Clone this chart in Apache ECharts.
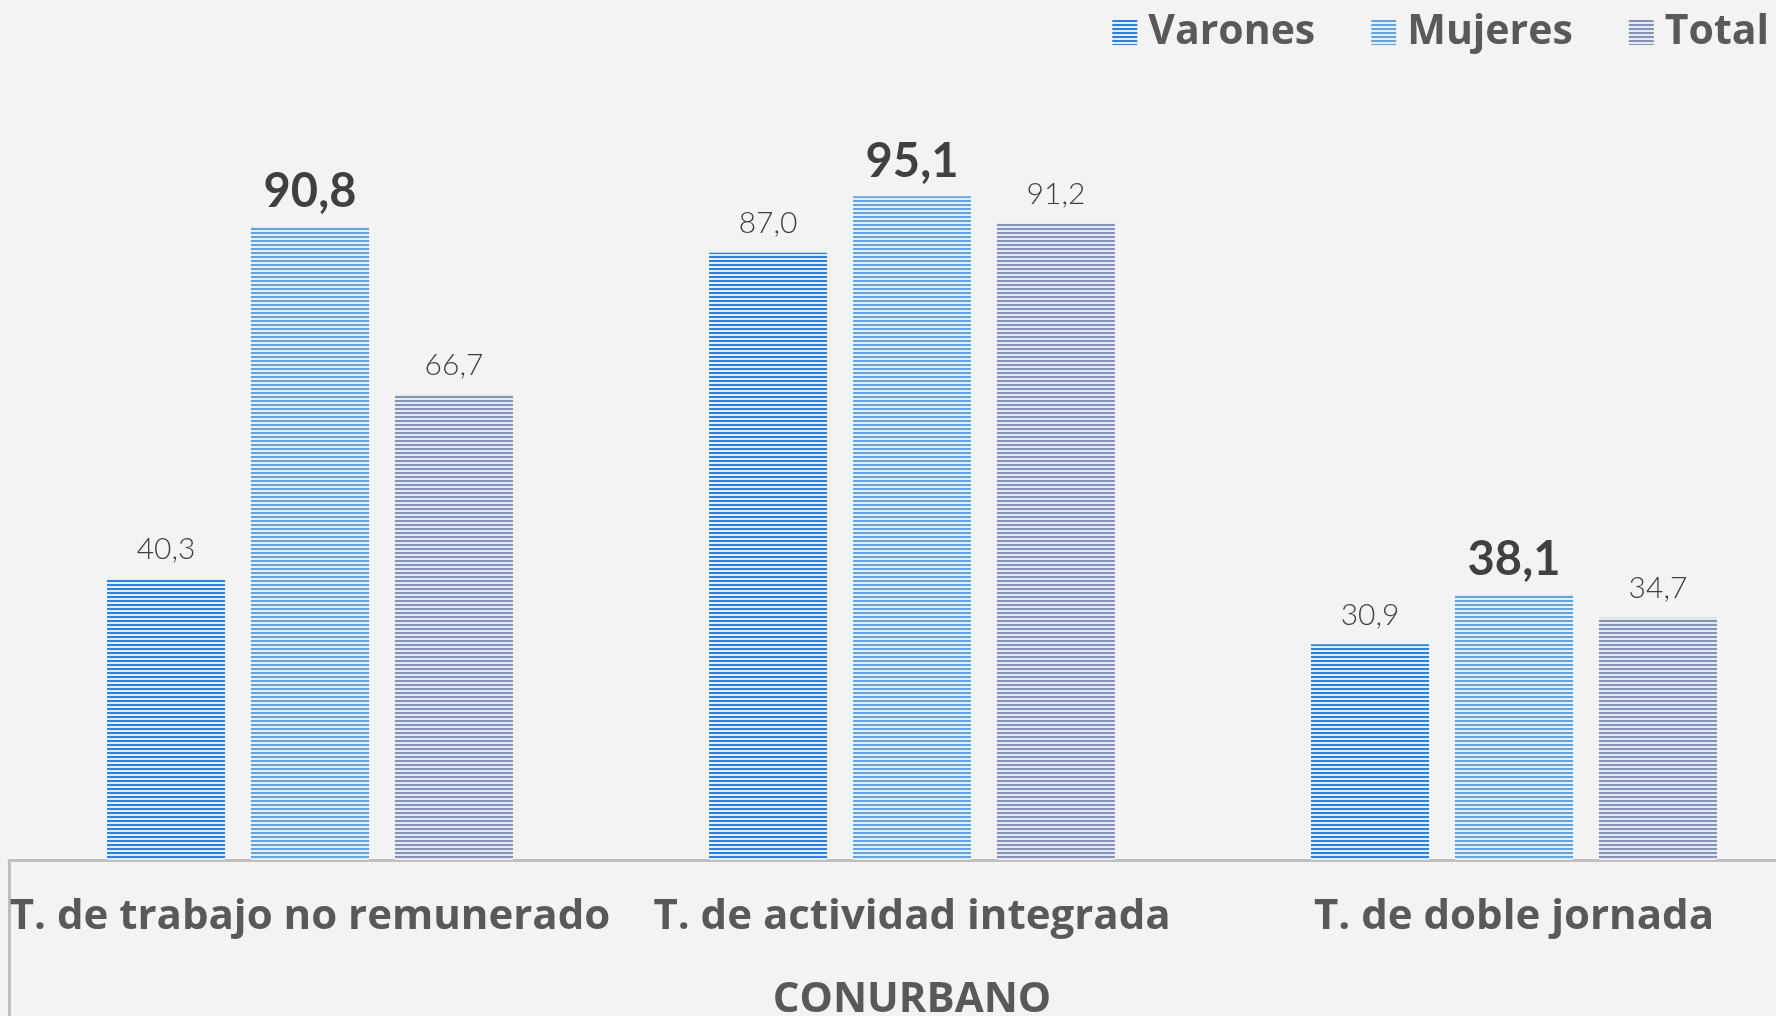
<!DOCTYPE html>
<html>
<head>
<meta charset="utf-8">
<script src="https://cdn.jsdelivr.net/npm/echarts@6/dist/echarts.min.js"></script>
<style>
  html, body { margin: 0; padding: 0; background: #f3f3f3; }
  #main { width: 1776px; height: 1016px; }
</style>
</head>
<body>
<div id="main"></div>
<script>
// datos
const categories = ['T. de trabajo no remunerado', 'T. de actividad integrada', 'T. de doble jornada'];
const varones = [40.3, 87.0, 30.9];
const mujeres = [90.8, 95.1, 38.1];
const total = [66.7, 91.2, 34.7];
const groupName = 'CONURBANO';

// relleno rayado horizontal
function stripes(dark, light) {
  const c = document.createElement('canvas');
  c.width = 4; c.height = 4;
  const ctx = c.getContext('2d');
  ctx.fillStyle = light; ctx.fillRect(0, 0, 4, 4);
  ctx.fillStyle = dark; ctx.fillRect(0, 0, 4, 2);
  return { image: c, repeat: 'repeat' };
}

const fmt = p => p.value.toFixed(1).replace('.', ',');
const font = 'Lato, "Noto Sans", sans-serif';
const boldFont = '"Open Sans", Lato, sans-serif';

const normalLabel = {
  show: true, position: 'top', distance: 14, formatter: fmt,
  fontFamily: font, fontSize: 30, fontWeight: 300, color: '#404040'
};
const boldLabel = {
  show: true, position: 'top', distance: 11, formatter: fmt,
  fontFamily: font, fontSize: 47, fontWeight: 'bold', color: '#404040'
};

const chart = echarts.init(document.getElementById('main'));
const option = {
  backgroundColor: '#f3f3f3',
  animation: false,
  legend: {
    right: 2, top: 7,
    icon: 'rect',
    itemWidth: 25, itemHeight: 25, itemGap: 56,
    textStyle: { fontFamily: boldFont, fontSize: 41, fontWeight: 'bold', color: '#595959', padding: [0, 0, 0, 6] }
  },
  grid: { left: 9, right: -39, top: 162, bottom: 156, outerBoundsMode: 'none', containLabel: false },
  xAxis: {
    type: 'category',
    data: categories,
    name: groupName,
    nameLocation: 'middle',
    nameGap: 119,
    nameTextStyle: { fontFamily: boldFont, fontSize: 42, fontWeight: 'bold', color: '#595959' },
    axisLine: { lineStyle: { color: '#bfbfbf', width: 3 } },
    axisTick: { show: true, interval: i => i === 0, length: 160, lineStyle: { color: '#bfbfbf', width: 3 } },
    axisLabel: { interval: 0, hideOverlap: false, margin: 36, fontFamily: boldFont, fontSize: 42, fontWeight: 'bold', color: '#595959' }
  },
  yAxis: { type: 'value', min: 0, max: 100, show: false, splitLine: { show: false } },
  series: [
    { name: 'Varones', type: 'bar', data: varones, barWidth: 118, barGap: '22%',
      itemStyle: { color: stripes('#2f80dc', '#e4edf7') }, label: normalLabel },
    { name: 'Mujeres', type: 'bar', data: mujeres, barWidth: 118, barGap: '22%',
      itemStyle: { color: stripes('#66a3db', '#e6eef6') }, label: boldLabel },
    { name: 'Total', type: 'bar', data: total, barWidth: 118, barGap: '22%',
      itemStyle: { color: stripes('#8393b3', '#e6e9ef') }, label: normalLabel }
  ]
};
option && chart.setOption(option);
</script>
</body>
</html>
